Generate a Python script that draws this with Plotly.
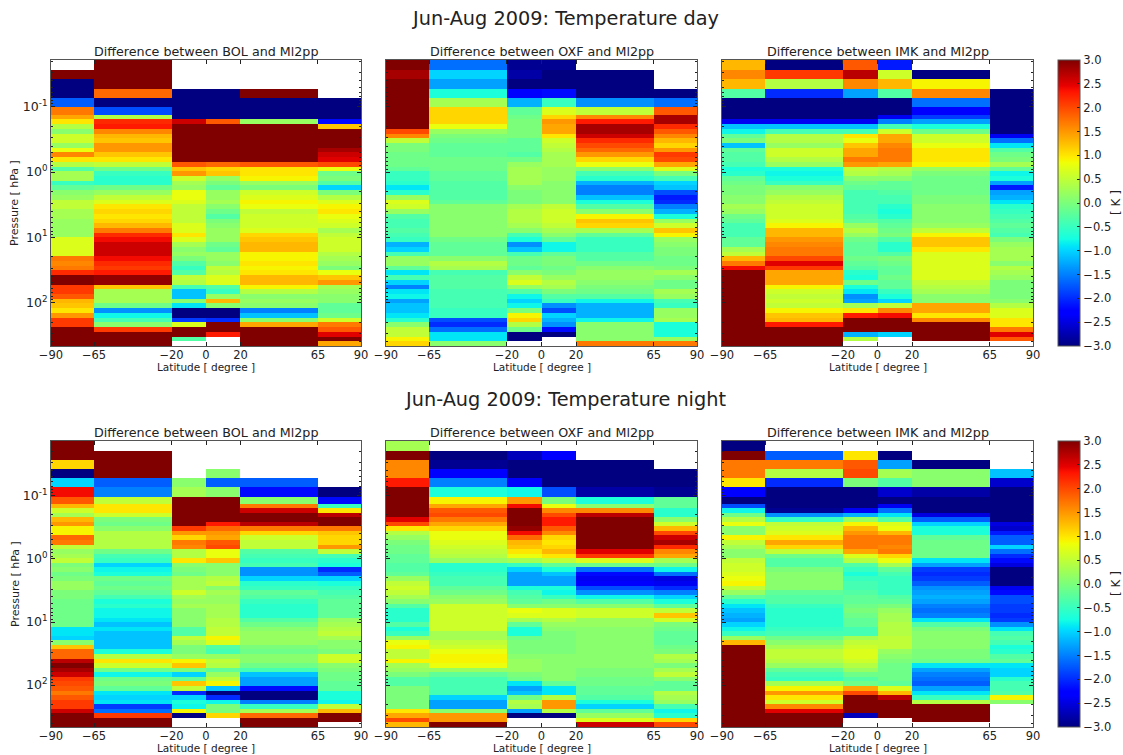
import plotly.graph_objects as go

W = None
lat_edges = [-90, -65, -20, 0, 20, 65, 90]
log_p_edges_day = [-1.7155, -1.567, -1.419, -1.276, -1.133, -0.990, -0.877, -0.806, -0.734, -0.661, -0.589, -0.517,
                   -0.444, -0.372, -0.300, -0.228, -0.155, -0.083, -0.011, 0.062, 0.134, 0.206, 0.278, 0.351, 0.423,
                   0.495, 0.568, 0.640, 0.712, 0.784, 0.857, 0.929, 1.001, 1.074, 1.146, 1.218, 1.290, 1.363, 1.435,
                   1.507, 1.580, 1.652, 1.724, 1.796, 1.869, 1.941, 2.013, 2.086, 2.158, 2.230, 2.302, 2.375, 2.447,
                   2.519, 2.592, 2.664]
log_p_edges_night = [-1.87] + log_p_edges_day

bol_day = [
[W,3,W,W,W,W],[3,3,W,W,W,W],[-3,3,W,W,W,W],[-3,1.8,-3,-3,3,W],[-1.7,-3,-3,-3,-3,-3],[1.7,-1.8,-3,-3,-3,-3],
[1.4,.4,-3,-3,-3,-3],[1.0,2.2,2.6,1.9,.2,-2.2],[.4,2.3,3,3,3,1.2],[.1,1.6,3,3,3,3],[.6,1.3,3,3,3,3],
[.6,1.2,3,3,3,3],[.2,1.5,3,3,3,3],[.8,1.5,3,3,3,2.8],[1.6,1.2,3,3,3,2.6],[1.0,1.0,3,3,3,2.5],
[.4,.5,1.9,1.8,1.9,2.0],[-.3,-.1,1.2,1.1,1.0,.8],[.3,-.5,1.5,1.2,1.0,-.1],[.3,-.6,.6,.2,.9,0],
[-.5,-.6,.3,0,.2,-.3],[-.2,-.1,.2,-.2,0,-1.0],[.1,.2,.8,.2,.6,0],[.2,.5,.8,.2,.7,.4],[.5,.7,.7,.3,.9,.7],
[.5,1.0,.5,.1,.8,.9],[.3,1.1,.5,-.1,.5,1.0],[.3,1.0,.5,-.3,.6,.8],[.2,1.1,.5,0,.6,.7],[.2,1.3,.7,.1,.6,.6],
[.2,1.7,.7,.2,.7,.3],[.2,2.2,1.0,.2,1.1,.5],[.7,2.4,.7,.2,1.2,.6],[.7,2.6,.3,-.1,1.3,.6],[.7,2.6,.1,-.2,1.3,.6],
[.7,2.6,.2,.2,.9,.4],[1.7,2.4,0,.2,.9,.3],[1.6,2.2,-.3,.1,1.0,.2],[1.7,2.1,-.5,.5,.9,0],[2.2,2.3,-.3,.4,1.0,.8],
[3,2.9,.5,.7,1.3,1.2],[3,2.9,.4,.7,1.3,1.5],[2.1,1.2,-.4,-.3,.9,.3],[2.1,.3,-1.1,-.5,.4,.2],[1.9,.3,-1.1,.2,.1,.1],
[1.3,.3,.1,1.3,.2,.1],[1.2,-.1,-.9,.1,.1,-.2],[1.0,-1.4,-3,-3,-1.5,-.2],[1.5,-.8,-3,-3,-1.1,-.1],
[2.1,-.4,-1.9,-2,.1,.6],[2.1,.1,.7,3,1.4,1.7],[3,2.1,3,3,3,1.9],[3,3,3,2.3,3,2.5],[3,3,-.3,W,3,3],[3,3,W,W,3,1.4],
]
oxf_day = [
[3,-1.6,-2.9,-2.9,W,W],[2.8,-1.0,-2.8,-3,-3,W],[3,-1.3,-3,-3,-3,W],[3,-.7,-2.3,-2.2,-3,-3],[3,.3,-1.2,-.5,-1.4,-1.6],
[3,1.1,-.2,.7,.5,1.9],[3,1.1,-.1,1.1,1.6,2.8],[3,1.1,0,1.5,2.3,2.8],[3,.8,0,1.4,2.8,2.2],[2.0,.2,0,1.4,2.8,1.9],
[1.6,0,0,1.0,2.6,1.6],[.5,-.1,-.2,.6,2.2,1.3],[0,-.2,-.2,.5,2.0,1.1],[0,-.2,-.2,.4,1.8,1.5],[-.1,-.2,-.3,.3,1.5,2.1],
[-.1,-.1,-.1,.3,1.1,2.0],[-.1,-.1,.2,.3,.8,1.4],[-.2,-.1,.3,.2,.1,.7],[-.5,-.2,.3,.2,-.4,0],[-.5,-.2,.3,.2,-.6,-.4],
[-.6,-.3,.3,.1,-1.2,-1.0],[-.9,-.3,.1,.1,-1.5,-1.1],[-.6,-.3,0,.1,-1.5,-1.8],[.2,-.3,0,.1,-1.1,-2.1],[.7,-.2,0,.1,-.7,-2.0],
[.6,.1,.3,.5,-.3,-1.5],[.2,.1,.4,.6,.1,-1.2],[-.3,.1,.4,.6,.9,-.7],[-.4,.1,.4,.6,1.2,.2],[-.4,.1,.3,.5,1.1,.6],
[-.3,.1,.1,.3,.3,1.2],[-.4,.1,-.4,.1,-.2,.9],[-.5,-.1,-.7,-.2,-.5,.2],[-1.2,-.2,-1.4,-.8,-.5,.1],[-1.0,-.2,-1.1,-.8,-.5,0],
[-.4,-.2,-.4,-.2,-.3,0],[.2,.1,-.1,0,-.3,-.1],[.2,.4,-.1,0,-.1,-.1],[-.2,.3,-.2,-.1,.1,0],[-.9,-.4,.1,0,.2,.3],
[-.4,-.3,.5,.2,.2,.1],[-1.0,-.3,.7,.4,.1,-.1],[-1.5,-.3,.2,.3,0,-.1],[-.9,-.4,-.3,0,-.1,.3],[-.8,-.4,-.8,-.3,-.3,.2],
[-1.3,-.4,-1.0,-.5,-.8,-.4],[-1.1,-.4,-.8,-1.4,-1.2,-.5],[-1.1,-.5,0,-1.8,-1.2,.2],[-.9,-.5,.9,-1.0,-1.2,.2],
[-.6,-1.8,1.1,-1.2,-.8,.3],[.1,-2.0,.4,-1.4,.1,-.7],[.5,-1.6,-.1,-2.2,.1,-.7],[.5,-.9,-3,-3,.1,-.7],[.9,-.9,-3,W,.1,.2],
[1.1,.1,W,W,1.7,1.7],
]
imk_day = [
[1.3,-3,1.9,-2.1,W,W],[1.6,2.1,2.7,.6,-3,W],[1.3,.4,1.6,1.3,.9,W],[-.3,-2.0,-1.3,-.3,1.6,-3],[-3,-3,-3,-3,-1.6,-3],
[-3,-3,-3,-3,-2.3,-3],[-3,-3,-3,-2.4,-1.9,-3],[-2.4,-2.4,-2.4,-1.5,-1.3,-3],[-1.1,-1.1,-1.1,-.4,-.7,-3],
[-.8,-.4,-.4,.6,-.1,-3],[-.2,.4,1.0,1.4,.6,-2.4],[0,.4,.8,1.4,.6,-1.6],[-1.1,.2,1.2,1.6,.8,-.9],[-.2,.6,1.4,1.7,1.0,-.3],
[-.3,.6,1.4,1.7,1.0,-.1],[-.3,.4,1.7,1.7,1.0,0],[-.4,.2,1.5,1.4,.9,.3],[-.7,-.7,.5,.4,.2,-.2],[-.6,-.8,.4,.3,0,-.8],
[-.2,-.7,.1,.1,-.1,-.7],[-.1,-.5,-.1,-.2,-.1,-1.3],[0,.1,-.2,-.2,-.1,-2.1],[0,.2,-.4,-.3,-.1,-1.3],[.1,.4,-.4,-.4,0,-1.2],
[.1,.5,-.4,-.4,0,-.9],[.3,.6,-.4,-.6,.1,-.6],[.2,.6,-.4,-.7,.1,-.5],[-.1,.6,-.3,-.6,.1,-.4],[-.2,.7,-.2,-.3,.1,-.3],
[-.4,.9,.2,-.2,.2,-.2],[-.4,1.3,.4,-.1,.5,-.3],[-.4,1.3,.2,0,.9,-.4],[-.2,1.5,-.1,-.3,1.2,0],[-.2,1.6,-.2,-.6,1.2,.2],
[.3,1.7,-.2,-.6,1.0,.3],[.5,1.7,-.2,-.3,.7,.3],[1.3,2.0,-.1,0,.7,.3],[1.7,2.5,-.2,-.1,.7,.1],[2.4,2.1,-.3,-.2,.7,.4],
[3,1.4,-.6,-.2,.7,.3],[3,1.4,-.7,-.1,.7,.2],[3,1.4,-.1,-.2,.5,0],[3,.9,-.7,-.2,.4,0],[3,.6,-.9,-.5,.3,0],
[3,.5,-1.4,-.7,.1,0],[3,.6,-1.3,-1.0,.1,.1],[3,.5,.3,.5,1.4,.4],[3,.9,1.0,1.6,1.4,.7],[3,1.2,2.3,2.4,1.0,.7],
[3,1.3,3,3,1.6,1.0],[3,2.3,3,3,3,1.0],[3,3,3,3,3,1.7],[3,3,-1.2,-1.0,3,2.5],[3,3,.4,W,3,1.9],[3,3,W,W,W,W],
]
bol_night = [
[3,W,W,W,W,W],[3,3,W,W,W,W],[1.1,3,W,W,W,W],[-3,3,W,.1,W,W],[-1.0,-1.7,.1,-1.7,-1.7,W],[2.4,-1.5,.3,.1,-2.2,-3],
[1.9,.5,3,3,.1,-2.2],[1.3,1.0,3,3,1.7,-.5],[.6,1.0,3,3,2.6,1.0],[.3,.6,3,3,3,2.7],[1.3,0,3,3,3,3],[1.5,-.1,3,2.3,2.7,3],
[.9,.1,2.1,1.8,1.7,1.7],[.9,.4,1.5,1.5,1.1,1.2],[1.8,.4,1.1,1.4,.6,1.1],[1.7,.4,1.7,1.9,.5,1.1],[.5,.4,1.6,2.0,.5,1.5],
[.2,-.1,.4,.8,-.3,.5],[.3,-.4,.4,.8,-.4,-.4],[.5,-.5,1.0,1.2,-.5,-.6],[0,-1.0,.1,.1,-.4,-.7],[.1,-.8,0,.1,-1.4,-2.0],
[-.1,-.7,-.1,.1,-1.4,-1.7],[0,-.1,.3,.4,-1.0,-1.0],[.2,-.2,.3,.5,-.6,-.7],[.2,-.1,.3,.1,-.5,-.5],[0,-.2,.6,.3,-.2,-.4],
[0,-.4,.3,.2,-.3,-.3],[-.1,-.7,.2,.2,-.5,-.2],[-.1,-.6,.3,.3,-.6,-.2],[-.1,-.8,.1,.3,-.6,-.2],[-.1,-.8,.1,.3,-.6,-.2],
[-.1,-.9,.1,.4,-.3,.2],[-.1,-1.1,.1,.4,-.1,.3],[-.9,-.9,-.3,.5,.1,.4],[-.9,-1.1,-.3,.5,.2,.5],[-1.0,-1.1,.5,.9,.2,.3],
[.1,-1.1,.3,.7,.2,.1],[1.2,-1.1,0,-.3,0,.1],[1.8,-.7,0,-.4,-.1,0],[1.8,.4,.2,.2,.1,.6],[2.7,1.0,.9,.5,.1,.6],
[3,.6,1.2,.4,-.1,.1],[2.8,-.1,0,-.2,-.4,0],[2.6,-.8,-1.0,.2,-1.1,-.1],[2.1,-.1,-.2,.5,-1.3,-.1],[2.0,0,1.2,.9,-1.3,-.2],
[1.9,-.2,.5,-1.1,-2.2,-.2],[1.7,-.9,-2.0,-3,-3,-.7],[1.9,-1.0,-1.0,-2.0,-3,-.7],[2.1,-.9,-.7,-.8,-1.5,-.8],
[2.1,-1.9,-.8,0,-.5,.5],[2.6,-1.6,.9,0,.3,1.3],[3,2.1,-3,1.1,1.8,3],[3,3,W,W,3,3],[3,3,W,W,3,W],
]
oxf_night = [
[.3,W,W,W,W,W],[3,-3,-2.7,-2.3,W,W],[1.6,-2.9,-3,-3,-3,W],[1.6,-2.3,-3,-3,-3,-3],[2.3,-1.5,-2.3,-3,-3,-3],
[3,-.7,-.8,-1.8,-2.8,-2.9],[3,.9,1.5,0,-.7,-.2],[3,1.4,2.4,.8,.1,-.2],[3,1.9,3,1.6,1.6,-.6],[3,2.0,3,2.0,2.7,-.6],
[2.5,1.7,3,2.3,3,.1],[2.0,1.4,3,2.3,3,.6],[1.0,1.1,2.9,1.9,3,1.3],[.4,.8,2.4,1.6,3,2.0],[.2,.8,1.8,1.1,3,2.6],
[0,.7,1.3,1.0,3,2.8],[-.1,.6,1.2,1.1,3,2.2],[-.1,.5,1.0,1.3,2.5,1.6],[-.2,.4,.8,1.0,2.1,1.4],[-.2,.2,.3,.5,.7,.3],
[-.3,-.6,-.5,-.2,-.1,-.1],[-.3,-.6,-1.0,-.7,-1.6,-.8],[-.2,-.5,-1.3,-1.1,-2.2,-1.6],[.2,-.4,-1.3,-1.3,-2.4,-2.5],
[.5,-.4,-1.3,-1.3,-2.3,-2.4],[.6,-.2,-.7,-.7,-1.8,-2.0],[.5,-.1,-.4,-.8,-1.4,-1.5],[.3,.1,-.3,-.5,-.8,-1.0],
[.1,.2,-.2,-.1,-.3,-.7],[-.3,.6,.1,.1,.1,-.2],[-.6,.6,.8,.7,.6,.5],[-.6,.6,.7,.7,.6,1.2],[-.6,.6,.3,.4,.2,.6],
[-.3,.6,-.2,.2,.2,0],[-.7,.6,-.7,.1,.1,-.1],[-.5,.3,-.7,0,.1,-.2],[.2,.3,-.1,0,.1,-.2],[.8,.5,0,0,.1,-.2],
[.9,.6,0,0,.1,-.1],[.5,.8,0,0,.1,0],[.5,.9,.1,.1,.1,.4],[.9,.9,.2,.1,.1,.3],[.3,.8,.2,.1,.1,0],[.2,.2,.2,.1,0,.3],
[0,-.2,0,.1,0,.5],[-.3,-.4,-.1,.1,-.1,.1],[-.3,-.4,-.9,-.2,-.1,-.2],[0,-.4,-1.3,-.9,-.2,-.2],[0,-.4,-1.1,-.9,-.2,.4],
[0,-1.0,-.1,.4,-.3,.3],[0,-1.3,.4,1.5,-.7,.2],[0,-1.3,.3,1.5,-1.0,-.4],[1.0,.1,-1.3,.4,-.2,-.8],[1.4,1.5,-3,-3,.2,-.6],
[2.0,1.5,W,W,.7,1.1],[1.3,3,W,W,2.6,2.0],
]
imk_night = [
[-3,W,W,W,W,W],[3,-1.7,1.0,-3,W,W],[1.7,1.7,1.9,-1.3,-3,W],[1.7,.4,2.0,.3,.1,-1.1],[1.0,-2.0,0,-.3,.1,-2.6],
[-2.3,-3,-3,-2.6,-2.8,-3],[-3,-3,-3,-3,-3,-3],[-1.8,-3,-3,-2.4,-3,-3],[-.8,-2.9,-2.4,-1.6,-3,-3],[-.1,-1.4,-1.2,-.9,-2.5,-3],
[.4,-.5,.2,-.3,-1.7,-3],[.8,.5,.9,.7,-1.0,-2.5],[.1,.6,1.3,.8,-.7,-2.6],[.1,.7,1.5,1.3,-.7,-2.1],[.9,1.0,1.7,1.7,-.2,-1.7],
[.5,1.4,1.7,1.7,-.1,-1.7],[.3,1.1,1.7,1.6,-.1,-1.0],[.1,.5,1.4,1.7,-.1,-1.6],[.1,-.1,.7,1.1,-.1,-2.0],[.5,-.3,.4,.8,-.9,-2.2],
[.6,-.3,-.3,.3,-1.3,-2.5],[.6,0,-.5,-.2,-1.9,-3],[.7,.1,-.7,-.4,-2.0,-3],[.8,.1,-.5,-.5,-1.9,-3],[.9,.1,-.4,-.5,-1.7,-3],
[.5,.1,-.4,-.5,-1.4,-2.4],[.2,-.2,-.3,-.5,-1.3,-2.2],[-.2,-.3,-.2,-.3,-1.2,-1.8],[-.6,-.3,-.2,-.2,-1.3,-1.8],
[-.9,-.5,-.1,0,-1.5,-1.9],[-1.1,-.6,0,.2,-1.6,-1.9],[-1.2,-.6,-.1,.3,-1.5,-2.0],[-1.3,-.6,-.2,.3,-.9,-1.9],
[-1.0,-.6,-.2,.4,-.3,-1.4],[-.8,-.5,-.4,.4,0,-.9],[-.5,-.4,-.4,.4,.1,-.4],[.2,-.1,.3,.5,.1,-.3],[1.3,.1,.5,.5,.1,-.4],
[3,.3,.6,.5,.1,-.7],[3,.5,.7,.2,0,-.6],[3,.5,.7,.1,0,-.3],[3,.4,.6,0,-.1,-.2],[3,.2,.4,-.1,-.9,-.9],[3,-.2,.2,-.1,-1.3,-1.0],
[3,-.4,-.1,-.1,-1.5,-1.0],[3,-.5,-.3,-.1,-1.6,-.6],[3,.3,-.1,-.2,-1.7,-.4],[3,.9,1.4,.7,-1.3,-.4],[3,1.5,2.0,1.3,-.9,-.3],
[3,1.0,3,2.7,-.5,.9],[3,.6,3,3,.4,.1],[3,1.6,3,3,3,W],[3,2.5,3,3,3,W],[3,3,-2.7,3,3,W],[3,3,W,W,3,W],[3,3,W,W,W,W],
]

row_titles = ["Jun-Aug 2009: Temperature day", "Jun-Aug 2009: Temperature night"]
panel_titles = ["Difference between BOL and Ml2pp", "Difference between OXF and Ml2pp", "Difference between IMK and Ml2pp"]
lat_ticks = [-90, -65, -20, 0, 20, 65, 90]
cbar_ticks = [-3, -2.5, -2, -1.5, -1, -0.5, 0, 0.5, 1, 1.5, 2, 2.5, 3]
pressure_ticks = [0.1, 1, 10, 100]
pressure_labels = ["10<sup>-1</sup>", "10<sup>0</sup>", "10<sup>1</sup>", "10<sup>2</sup>"]

panels = [[bol_day, oxf_day, imk_day], [bol_night, oxf_night, imk_night]]
edges = [log_p_edges_day, log_p_edges_night]

W_PX, H_PX = 1123, 755
jet = [(0, "rgb(0,0,128)"), (.11, "rgb(0,0,255)"), (.125, "rgb(0,0,255)"), (.34, "rgb(0,219,255)"),
       (.35, "rgb(0,230,247)"), (.375, "rgb(21,255,226)"), (.64, "rgb(238,255,8)"), (.65, "rgb(247,246,0)"),
       (.66, "rgb(255,236,0)"), (.89, "rgb(255,19,0)"), (.91, "rgb(232,0,0)"), (1, "rgb(128,0,0)")]

x_px = [(51, 361), (386, 697), (722, 1033)]
y_px = [(60, 346), (441, 727)]
FONT = "DejaVu Sans"
INK = "#222222"
FRAME = "#555555"

fig = go.Figure()
annotations = []
for r in range(2):
    top, bot = y_px[r]
    ydom = [1 - bot / H_PX, 1 - top / H_PX]
    pressure = [10 ** v for v in edges[r]]
    ca = "coloraxis" if r == 0 else "coloraxis2"
    for c in range(3):
        n = r * 3 + c + 1
        suffix = "" if n == 1 else str(n)
        fig.add_trace(go.Heatmap(x=lat_edges, y=pressure, z=panels[r][c], coloraxis=ca,
                                 xaxis="x" + suffix, yaxis="y" + suffix, hoverongaps=False))
        left, right = x_px[c]
        fig.layout["xaxis" + suffix] = dict(
            domain=[left / W_PX, right / W_PX], anchor="y" + suffix, range=[-90, 90], automargin=False,
            tickmode="array", tickvals=lat_ticks, ticks="inside", ticklen=4, tickcolor=INK, ticklabelstandoff=-2,
            mirror="ticks", showline=True, linecolor=FRAME, linewidth=1, showgrid=False, zeroline=False,
            tickfont=dict(size=11.5, color=INK, family=FONT))
        fig.layout["yaxis" + suffix] = dict(
            domain=ydom, anchor="x" + suffix, type="log", automargin=False,
            range=[edges[r][-1], edges[r][0]], tickmode="array", tickvals=pressure_ticks, ticktext=pressure_labels,
            ticks="inside", ticklen=4, tickcolor=INK, mirror="ticks", showline=True, linecolor=FRAME, linewidth=1,
            showgrid=False, zeroline=False, showticklabels=(c == 0),
            tickfont=dict(size=12.5, color=INK, family=FONT),
            minor=dict(ticks="inside", ticklen=2, tickcolor=INK, showgrid=False,
                       tickmode="array", tickvals=[m * 10 ** e for e in (-2, -1, 0, 1, 2) for m in range(2, 10)]))
        annotations.append(dict(text=panel_titles[c], x=(left + right) / 2 / W_PX, y=1 - (top + 1) / H_PX,
                                xref="paper", yref="paper", xanchor="center", yanchor="bottom", showarrow=False,
                                font=dict(size=12.7, color=INK, family=FONT)))
        annotations.append(dict(text="Latitude [ degree ]", x=(left + right) / 2 / W_PX, y=1 - (bot + 21) / H_PX,
                                xref="paper", yref="paper", xanchor="center", yanchor="middle", showarrow=False,
                                font=dict(size=10.5, color=INK, family=FONT)))
    annotations.append(dict(text="Pressure [ hPa ]", x=15 / W_PX, y=1 - (top + bot) / 2 / H_PX,
                            xref="paper", yref="paper", xanchor="center", yanchor="middle", textangle=-90,
                            showarrow=False, font=dict(size=11, color=INK, family=FONT)))
    annotations.append(dict(text="[ K ]", x=1116 / W_PX, y=1 - (top + bot) / 2 / H_PX,
                            xref="paper", yref="paper", xanchor="center", yanchor="middle", textangle=-90,
                            showarrow=False, font=dict(size=12, color=INK, family=FONT)))
    annotations.append(dict(text=row_titles[r], x=565 / W_PX, y=1 - (top - 42) / H_PX, xref="paper", yref="paper",
                            xanchor="center", yanchor="middle", showarrow=False,
                            font=dict(size=19.3, color=INK, family=FONT)))


def cbar(r):
    top, bot = y_px[r]
    return dict(cmin=-3, cmax=3, colorscale=jet, colorbar=dict(
        x=1058 / W_PX, xanchor="left", xref="paper", y=1 - bot / H_PX, yanchor="bottom", yref="paper",
        len=bot - top, lenmode="pixels", thickness=22, thicknessmode="pixels", xpad=0, ypad=0,
        tickmode="array", tickvals=cbar_ticks, tickformat=".1f", ticks="inside", ticklen=3, tickcolor=INK,
        tickfont=dict(size=11.5, color=INK, family=FONT), outlinecolor=FRAME, outlinewidth=1))


fig.update_layout(width=W_PX, height=H_PX, margin=dict(l=0, r=0, t=0, b=0, autoexpand=False), paper_bgcolor="white",
                  plot_bgcolor="white", showlegend=False, annotations=annotations,
                  coloraxis=cbar(0), coloraxis2=cbar(1))
fig.write_html("out.html", config={"displayModeBar": False}, post_script="document.body.style.margin='0';")
